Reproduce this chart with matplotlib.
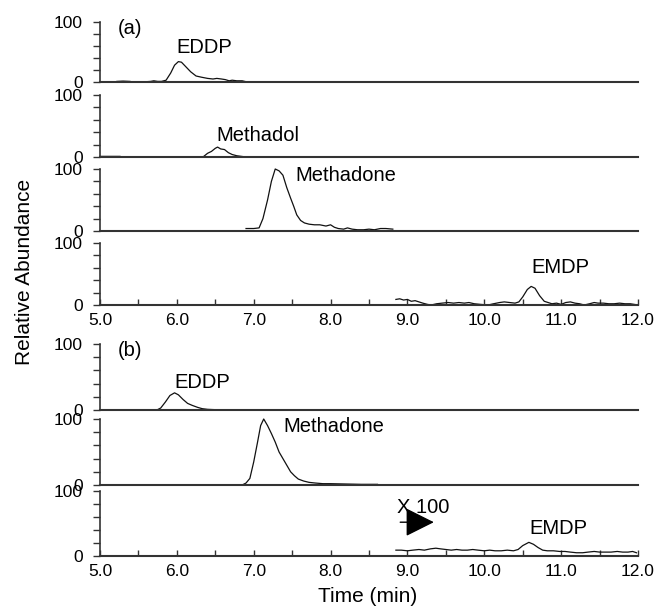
import matplotlib
matplotlib.use("Agg")
import matplotlib.pyplot as plt
import numpy as np
from matplotlib.ticker import FixedLocator, MultipleLocator

plt.rcParams['font.family'] = ['Liberation Sans', 'DejaVu Sans']

nan = np.nan

# (a) traces: time (min), relative abundance (%)
a_eddp_t = [5.22, 5.30, 5.39, nan, 5.60, 5.66, 5.70, 5.75, 5.80, 5.86, 5.92, 5.97, 6.02, 6.06,
            6.12, 6.18, 6.25, 6.32, 6.40, 6.47, 6.52, 6.58, 6.63, 6.68, 6.72, 6.78, 6.85, 6.90, 8.72]
a_eddp_y = [1, 1.5, 1, nan, 0.5, 1, 2, 1, 1, 3, 15, 28, 34, 33,
            25, 17, 10, 8, 6, 5, 6, 5, 4, 2, 3, 2, 2, 0.5, 0]

a_methadol_t = [5.00, 5.10, 5.26, nan, 6.35, 6.40, 6.45, 6.50, 6.53, 6.57, 6.62, 6.67, 6.72,
                6.78, 6.87]
a_methadol_y = [1, 1, 1, nan, 1, 6, 9, 14, 16, 13, 12, 7, 4, 2, 0.5]

a_methadone_t = [6.90, 7.00, 7.07, 7.12, 7.18, 7.23, 7.28, 7.33, 7.38, 7.43, 7.48, 7.52, 7.56,
                 7.61, 7.66, 7.72, 7.79, 7.86, 7.94, 8.00, 8.05, 8.10, 8.17, 8.22, 8.28, 8.35,
                 8.43, 8.50, 8.57, 8.65, 8.72, 8.81]
a_methadone_y = [4, 4, 5, 20, 50, 80, 100, 97, 90, 70, 53, 40, 26,
                 17, 13, 11, 10, 10, 8, 10, 6, 4, 3, 5, 3, 2,
                 2, 3, 2, 4, 4, 3]

a_emdp_t = [8.85, 8.90, 8.95, 9.00, 9.05, 9.10, 9.15, 9.20, 9.26, 9.31, 9.38, 9.45, 9.53, 9.60,
            9.67, 9.74, 9.80, 9.87, 9.95, 10.05, 10.12, 10.20, 10.26, 10.33, 10.40, 10.45,
            10.50, 10.56, 10.61, 10.66, 10.72, 10.78, 10.83, 10.88, 10.94, 11.00, 11.06,
            11.12, 11.18, 11.24, 11.30, 11.37, 11.43, 11.48, 11.55, 11.62, 11.69, 11.76,
            11.83, 11.90, 11.95, 12.00]
a_emdp_y = [9, 10, 8, 9, 6, 7, 5, 3, 1, 0, 2, 3, 4, 3,
            4, 3, 4, 2, 1, 0, 2, 4, 5, 4, 3, 5,
            13, 25, 30, 27, 15, 6, 4, 2, 3, 1, 4,
            5, 3, 2, 0, 2, 4, 3, 3, 2, 2, 3,
            2, 2, 1, 0]

# (b) traces
b_eddp_t = [5.00, 5.74, 5.79, 5.85, 5.91, 5.97, 6.02, 6.08, 6.14, 6.20, 6.27, 6.33, 6.40,
            6.50, 6.93]
b_eddp_y = [0, 0, 3, 12, 22, 26, 23, 16, 10, 7, 4, 2, 1, 0.5, 0]

b_methadone_t = [5.00, 6.85, 6.90, 6.95, 7.00, 7.05, 7.09, 7.13, 7.18, 7.23, 7.28, 7.33, 7.38,
                 7.43, 7.48, 7.53, 7.58, 7.65, 7.72, 7.80, 7.90, 8.00, 8.20, 8.40, 8.61]
b_methadone_y = [0, 0, 3, 10, 35, 65, 90, 100, 90, 78, 65, 50, 40,
                 30, 20, 14, 9, 6, 4, 3, 2, 2, 1.5, 1, 1]

b_emdp_t = [8.85, 8.92, 9.00, 9.07, 9.15, 9.22, 9.30, 9.37, 9.43, 9.50, 9.57, 9.64, 9.71,
            9.78, 9.85, 9.92, 10.00, 10.07, 10.14, 10.22, 10.30, 10.38, 10.44, 10.50,
            10.58, 10.64, 10.70, 10.76, 10.82, 10.90, 10.98, 11.05, 11.12, 11.20, 11.28,
            11.35, 11.43, 11.50, 11.58, 11.65, 11.73, 11.80, 11.87, 11.93, 11.98]
b_emdp_y = [9, 9, 8, 9, 10, 9, 11, 12, 11, 10, 9, 10, 9,
            9, 10, 9, 8, 9, 8, 8, 9, 8, 10, 16,
            21, 18, 13, 9, 8, 8, 7, 7, 6, 5, 5,
            6, 7, 6, 6, 6, 7, 6, 6, 7, 5]

# panel pixel extents (top, bottom) of the 0..100 range
a_rows = [(22, 82), (95, 157), (169, 231), (243, 305)]
b_rows = [(344, 410), (419, 485), (491, 556)]

a_traces = [(a_eddp_t, a_eddp_y), (a_methadol_t, a_methadol_y),
            (a_methadone_t, a_methadone_y), (a_emdp_t, a_emdp_y)]
b_traces = [(b_eddp_t, b_eddp_y), (b_methadone_t, b_methadone_y), (b_emdp_t, b_emdp_y)]

# compound labels: text, x (min), y (%)
a_labels = [("EDDP", 6.35, 58), ("Methadol", 7.06, 35), ("Methadone", 7.54, 90), ("EMDP", 10.99, 60)]
b_labels = [("EDDP", 6.33, 42), ("Methadone", 7.38, 89), ("EMDP", 10.96, 43)]

W, H = 662, 611
fig = plt.figure(figsize=(W / 100, H / 100), dpi=100)

spine_col = '#333333'


def make_axes(rows, traces, labels, tag):
    axes = []
    for i, ((top, bot), (t, y)) in enumerate(zip(rows, traces)):
        ax = fig.add_axes([100 / W, 1 - bot / H, 538 / W, (bot - top) / H])
        ax.plot(t, y, color='#111111', lw=0.9, clip_on=False)
        ax.set_xlim(5, 12)
        ax.set_ylim(0, 100)
        for s in ['top', 'right']:
            ax.spines[s].set_visible(False)
        ax.spines['left'].set_color(spine_col)
        ax.spines['bottom'].set_color(spine_col)
        ax.spines['left'].set_linewidth(1.2)
        ax.spines['bottom'].set_linewidth(1.5)
        ax.yaxis.set_major_locator(FixedLocator([0, 100]))
        ax.yaxis.set_minor_locator(FixedLocator([20, 40, 60, 80]))
        ax.tick_params(axis='y', which='both', direction='out', length=5, width=1,
                       color=spine_col, labelsize=12.5, pad=7.5)
        last = (i == len(rows) - 1)
        if last:
            ax.xaxis.set_major_locator(MultipleLocator(1.0))
            ax.xaxis.set_minor_locator(MultipleLocator(0.5))
            ax.xaxis.set_major_formatter(lambda v, p: f"{v:.1f}")
            ax.tick_params(axis='x', which='both', direction='in', length=4, width=1,
                           color=spine_col, labelsize=12.5, pad=6)
        else:
            ax.set_xticks([])
        ax.patch.set_visible(False)
        txt, lx, ly = labels[i]
        ax.text(lx, ly, txt, ha='center' if txt != 'Methadone' else 'left',
                va='center', fontsize=14.5)
        axes.append(ax)
    axes[0].text(5.23, 90, tag, ha='left', va='center', fontsize=14.5)
    return axes


a_axes = make_axes(a_rows, a_traces, a_labels, "(a)")
b_axes = make_axes(b_rows, b_traces, b_labels, "(b)")

# x100 marker in the last (b) panel
axb = b_axes[-1]
axb.annotate("", xy=(9.38, 52), xytext=(8.87, 52),
             arrowprops=dict(arrowstyle='-|>,head_length=1.8,head_width=0.9',
                             mutation_scale=10, color='black', lw=1.0))
axb.text(8.87, 75, "X 100", ha='left', va='center', fontsize=14.5)

fig.text(25 / W, 1 - 272 / H, "Relative Abundance", rotation=90, ha='center', va='center',
         fontsize=15)
fig.text(368 / W, 1 - 597 / H, "Time (min)", ha='center', va='center', fontsize=15)

fig.savefig("out.png", dpi=100)
